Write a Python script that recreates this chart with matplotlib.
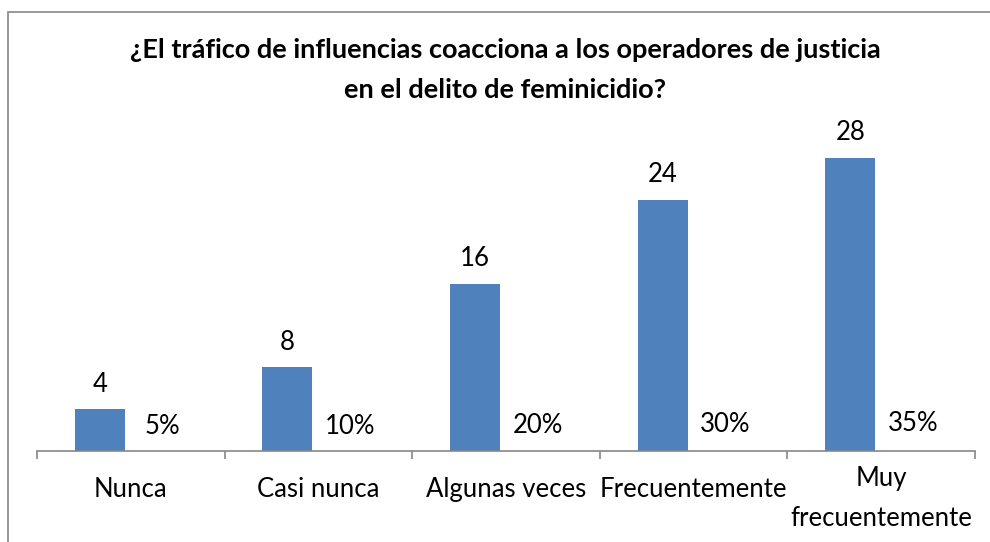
import matplotlib.pyplot as plt
import matplotlib.transforms as mtransforms
import numpy as np

# data
categorias = ['Nunca', 'Casi nunca', 'Algunas veces', 'Frecuentemente', 'Muy\nfrecuentemente']
frecuencia = [4, 8, 16, 24, 28]
porcentaje = [0.05, 0.10, 0.20, 0.30, 0.35]
titulo = '¿El tráfico de influencias coacciona a los operadores de justicia\nen el delito de feminicidio?'

plt.rcParams['font.family'] = ['Lato', 'DejaVu Sans']

fig = plt.figure(figsize=(9.9, 5.42), dpi=100)
W, H = 990, 542
ax = fig.add_axes([37 / W, (H - 451) / H, (975 - 37) / W, (451 - 137) / H])

x = np.arange(len(categorias))
bw = 50 / 187.6
b1 = ax.bar(x - 31 / 187.6, frecuencia, width=bw, color='#4F81BD')
b2 = ax.bar(x + 32 / 187.6, porcentaje, width=bw, color='none')
ax.bar_label(b1, labels=[str(v) for v in frecuencia], padding=9, fontsize=18.5)
ax.bar_label(b2, labels=[f'{int(round(p * 100))}%' for p in porcentaje], padding=8, fontsize=18.5)

ax.set_xlim(-0.5, len(categorias) - 0.5)
ax.set_ylim(0, 30)
ax.set_xticks(x)
ax.set_xticklabels(categorias, fontsize=18.5, linespacing=1.75)
ax.set_xticks(np.arange(len(categorias) + 1) - 0.5, minor=True)
ax.tick_params(axis='x', which='major', length=0, pad=19)
ax.tick_params(axis='x', which='minor', length=6, color='#868686', width=1.2, direction='out')
ax.set_yticks([])
for s in ['left', 'right', 'top']:
    ax.spines[s].set_visible(False)
ax.spines['bottom'].set_color('#868686')
ax.spines['bottom'].set_linewidth(1.2)

# two-line label sits a bit higher in the original
last = ax.get_xticklabels()[-1]
last.set_transform(last.get_transform() + mtransforms.ScaledTranslation(0, 11 / 100, fig.dpi_scale_trans))

fig.text(505 / W, 1 - 70 / H, titulo, ha='center', va='center', fontsize=19.5,
         fontweight='bold', linespacing=1.75)

# chart frame (left/top edges visible in the original)
fig.add_artist(plt.Rectangle((8 / W, -0.1), 1.2, 1 - 12 / H + 0.1, transform=fig.transFigure,
                             fill=False, edgecolor='#888888', linewidth=1.2))

fig.savefig('out.png', dpi=100)
